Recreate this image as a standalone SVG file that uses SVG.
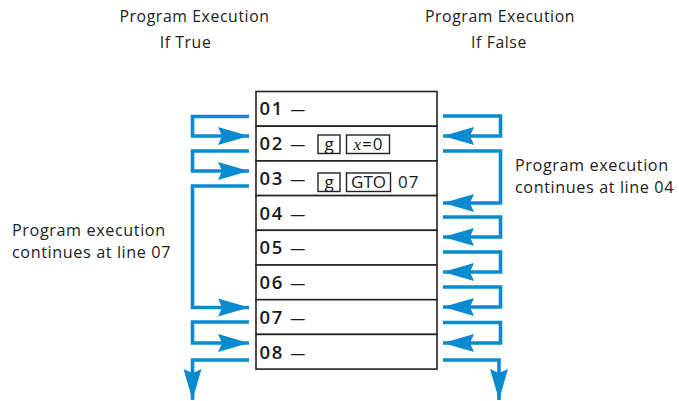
<svg xmlns="http://www.w3.org/2000/svg" width="679" height="401" viewBox="0 0 679 401">
<style>
.lbl{font-family:"Open Sans","DejaVu Sans",sans-serif;font-size:15.8px;fill:#222;letter-spacing:0.6px}
.ann{font-family:"Open Sans","DejaVu Sans",sans-serif;font-size:16.2px;fill:#222;letter-spacing:0.6px}
.row{fill:#fff;stroke:#222;stroke-width:1.6}
.num{font-family:"Open Sans","DejaVu Sans",sans-serif;font-size:18.5px;font-weight:600;fill:#1a1a1a;letter-spacing:1.6px}
.dash{font-size:15px;letter-spacing:0}
.key{fill:#fff;stroke:#222;stroke-width:1.4}
.kt{font-family:"Open Sans","DejaVu Sans",sans-serif;font-size:17px;fill:#1a1a1a}
.con{fill:none;stroke:#0a8bd0;stroke-width:3.6;stroke-linejoin:miter}
</style>
<defs>
<marker id="ah" markerUnits="userSpaceOnUse" markerWidth="32" markerHeight="20" viewBox="0 0 32 20" refX="31" refY="10" orient="auto">
<path d="M0,1 L31,10 L0,19 L4,10 Z" fill="#0a8bd0"/>
</marker>
</defs>

<g id="headings">
<text class="lbl" x="194.5" y="22" text-anchor="middle">Program Execution</text>
<text class="lbl" x="185.5" y="48" text-anchor="middle">If True</text>
<text class="lbl" x="500" y="22" text-anchor="middle">Program Execution</text>
<text class="lbl" x="499" y="48" text-anchor="middle">If False</text>
<text class="ann" x="12" y="236">Program execution</text>
<text class="ann" x="12" y="258">continues at line 07</text>
<text class="ann" x="515" y="171">Program execution</text>
<text class="ann" x="515" y="193">continues at line 04</text>
</g>

<g id="row01"><rect class="row" x="256" y="91.5" width="181" height="34.7"/><text class="num" x="259.5" y="115">01 <tspan class="dash">—</tspan></text></g>
<g id="row02"><rect class="row" x="256" y="126.2" width="181" height="34.7"/><text class="num" x="259.5" y="150">02 <tspan class="dash">—</tspan></text>
<rect class="key" x="318" y="135" width="22" height="18.5"/><text class="kt" x="329" y="149.5" text-anchor="middle">g</text>
<rect class="key" x="346.5" y="135" width="43" height="18.5"/><text class="kt" x="368" y="149.5" text-anchor="middle"><tspan font-family="'Liberation Serif',serif" font-style="italic">x</tspan><tspan dx="1">=</tspan><tspan dx="1">0</tspan></text></g>
<g id="row03"><rect class="row" x="256" y="160.9" width="181" height="34.7"/><text class="num" x="259.5" y="185">03 <tspan class="dash">—</tspan></text>
<rect class="key" x="318" y="173" width="22" height="18.5"/><text class="kt" x="329" y="187.5" text-anchor="middle">g</text>
<rect class="key" x="346.5" y="173" width="44" height="18.5"/><text class="kt" x="368.5" y="187.5" text-anchor="middle">GTO</text>
<text class="kt" x="398" y="188" letter-spacing="1">07</text></g>
<g id="row04"><rect class="row" x="256" y="195.6" width="181" height="34.7"/><text class="num" x="259.5" y="220">04 <tspan class="dash">—</tspan></text></g>
<g id="row05"><rect class="row" x="256" y="230.3" width="181" height="34.7"/><text class="num" x="259.5" y="254">05 <tspan class="dash">—</tspan></text></g>
<g id="row06"><rect class="row" x="256" y="265" width="181" height="34.7"/><text class="num" x="259.5" y="289">06 <tspan class="dash">—</tspan></text></g>
<g id="row07"><rect class="row" x="256" y="299.7" width="181" height="34.7"/><text class="num" x="259.5" y="324">07 <tspan class="dash">—</tspan></text></g>
<g id="row08"><rect class="row" x="256" y="334.4" width="181" height="34.7"/><text class="num" x="259.5" y="359">08 <tspan class="dash">—</tspan></text></g>

<g id="connectors">
<path class="con" d="M249,116.5 H192.5 V136 H249" marker-end="url(#ah)"/>
<path class="con" d="M249,151 H192.5 V171 H249" marker-end="url(#ah)"/>
<path class="con" d="M249,186 H192.5 V307.5 H249" marker-end="url(#ah)"/>
<path class="con" d="M249,322 H192.5 V343 H249" marker-end="url(#ah)"/>
<path class="con" d="M249,360 H192.5 V400" marker-end="url(#ah)"/>
<path class="con" d="M443,116 H500.5 V136 H443" marker-end="url(#ah)"/>
<path class="con" d="M443,151 H500.5 V203 H443" marker-end="url(#ah)"/>
<path class="con" d="M443,217 H500.5 V237 H443" marker-end="url(#ah)"/>
<path class="con" d="M443,252 H500.5 V272 H443" marker-end="url(#ah)"/>
<path class="con" d="M443,287 H500.5 V307 H443" marker-end="url(#ah)"/>
<path class="con" d="M443,322.5 H500.5 V343 H443" marker-end="url(#ah)"/>
<path class="con" d="M443,360 H499 V400" marker-end="url(#ah)"/>
</g>
</svg>
